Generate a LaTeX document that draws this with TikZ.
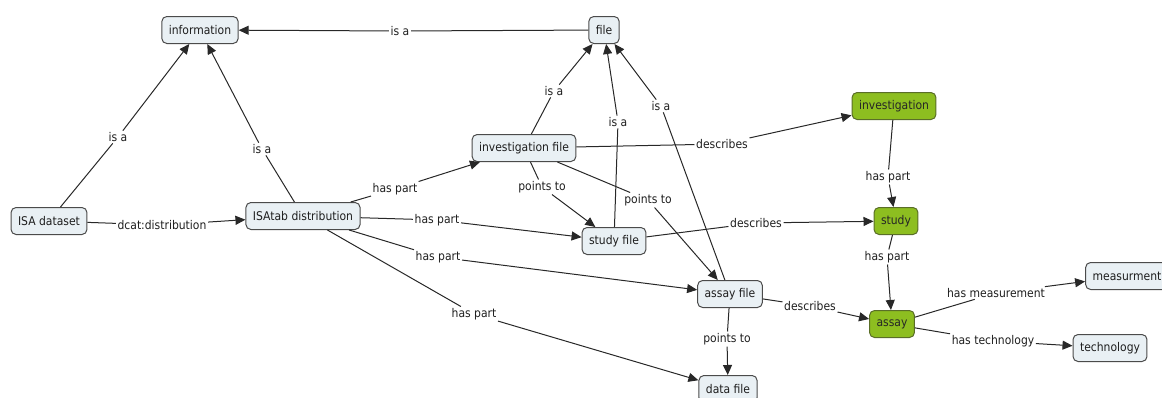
\documentclass[tikz,border=0pt]{standalone}
\usepackage{fontspec}
\setmainfont{DejaVu Sans}[FakeStretch=0.9]
\usetikzlibrary{arrows.meta}
\definecolor{boxfill}{RGB}{233,240,244}
\definecolor{boxline}{RGB}{75,75,75}
\definecolor{greenfill}{RGB}{141,190,32}
\definecolor{greenline}{RGB}{90,110,40}
\definecolor{edgecol}{RGB}{40,40,40}
\definecolor{txtcol}{RGB}{30,30,30}
\begin{document}
\begin{tikzpicture}[x=1pt,y=-1pt,
  concept/.style={draw=boxline, line width=1pt, fill=boxfill, rounded corners=5pt,
    minimum height=27pt, inner xsep=7pt, inner ysep=2pt,
    font=\fontsize{12}{14}\selectfont, text=txtcol},
  gconcept/.style={concept, fill=greenfill, draw=greenline, text=black!85},
  lbl/.style={inner sep=1.5pt, font=\fontsize{12}{14}\selectfont, text=txtcol},
  link/.style={draw=edgecol, line width=1pt},
  arr/.style={link, -{Triangle[length=10pt,width=9pt]}}]
\useasboundingbox (0,0) rectangle (1162,397);
% concepts
\node[concept] (information) at (200,30) {information};
\node[concept] (file) at (604,30) {file};
\node[concept] (isads) at (49,221) {ISA dataset};
\node[concept] (isatab) at (303,216) {ISAtab distribution};
\node[concept] (invfile) at (524,148) {investigation file};
\node[concept] (studyfile) at (614,241) {study file};
\node[concept] (assayfile) at (730,294) {assay file};
\node[concept] (datafile) at (728,389) {data file};
\node[gconcept] (investigation) at (894,106) {investigation};
\node[gconcept] (study) at (896,221) {study};
\node[gconcept] (assay) at (892,324) {assay};
\node[concept] (measurment) at (1127,276) {measurment};
\node[concept] (technology) at (1110,348) {technology};
% labels
\node[lbl] (l1) at (400,31) {is a};
\node[lbl] (l2) at (118,137) {is a};
\node[lbl] (l3) at (262,149) {is a};
\node[lbl] (l4) at (162,225) {dcat:distribution};
\node[lbl] (l5) at (395,189) {has part};
\node[lbl] (l6) at (437,220) {has part};
\node[lbl] (l7) at (438,257) {has part};
\node[lbl] (l8) at (474,314) {has part};
\node[lbl] (l9) at (554,91) {is a};
\node[lbl] (l10) at (618,122) {is a};
\node[lbl] (l11) at (661,106) {is a};
\node[lbl] (l12) at (722,144) {describes};
\node[lbl] (l13) at (542,187) {points to};
\node[lbl] (l14) at (648,200) {points to};
\node[lbl] (l15) at (756,223) {describes};
\node[lbl] (l16) at (810,306) {describes};
\node[lbl] (l17) at (727,339) {points to};
\node[lbl] (l18) at (888,177) {has part};
\node[lbl] (l19) at (887,257) {has part};
\node[lbl] (l20) at (996,293) {has measurement};
\node[lbl] (l21) at (993,341) {has technology};
% connectors
\draw[link] (file) -- (l1);        \draw[arr] (l1) -- (information);
\draw[link] (isads) -- (l2);       \draw[arr] (l2) -- (information);
\draw[link] (isatab) -- (l3);      \draw[arr] (l3) -- (information);
\draw[link] (isads) -- (l4);       \draw[arr] (l4) -- (isatab);
\draw[link] (isatab) -- (l5);      \draw[arr] (l5) -- (invfile);
\draw[link] (isatab) -- (l6);      \draw[arr] (l6) -- (studyfile);
\draw[link] (isatab) -- (l7);      \draw[arr] (l7) -- (assayfile);
\draw[link] (isatab) -- (l8);      \draw[arr] (l8) -- (datafile);
\draw[link] (invfile) -- (l9);     \draw[arr] (l9) -- (file);
\draw[link] (studyfile) -- (l10);  \draw[arr] (l10) -- (file);
\draw[link] (assayfile) -- (l11);  \draw[arr] (l11) -- (file);
\draw[link] (invfile) -- (l12);    \draw[arr] (l12) -- (investigation);
\draw[link] (invfile) -- (l13);    \draw[arr] (l13) -- (studyfile);
\draw[link] (invfile) -- (l14);    \draw[arr] (l14) -- (assayfile);
\draw[link] (studyfile) -- (l15);  \draw[arr] (l15) -- (study);
\draw[link] (assayfile) -- (l16);  \draw[arr] (l16) -- (assay);
\draw[link] (assayfile) -- (l17);  \draw[arr] (l17) -- (datafile);
\draw[link] (investigation) -- (l18); \draw[arr] (l18) -- (study);
\draw[link] (study) -- (l19);      \draw[arr] (l19) -- (assay);
\draw[link] (assay) -- (l20);      \draw[arr] (l20) -- (measurment);
\draw[link] (assay) -- (l21);      \draw[arr] (l21) -- (technology);
\end{tikzpicture}
\end{document}
